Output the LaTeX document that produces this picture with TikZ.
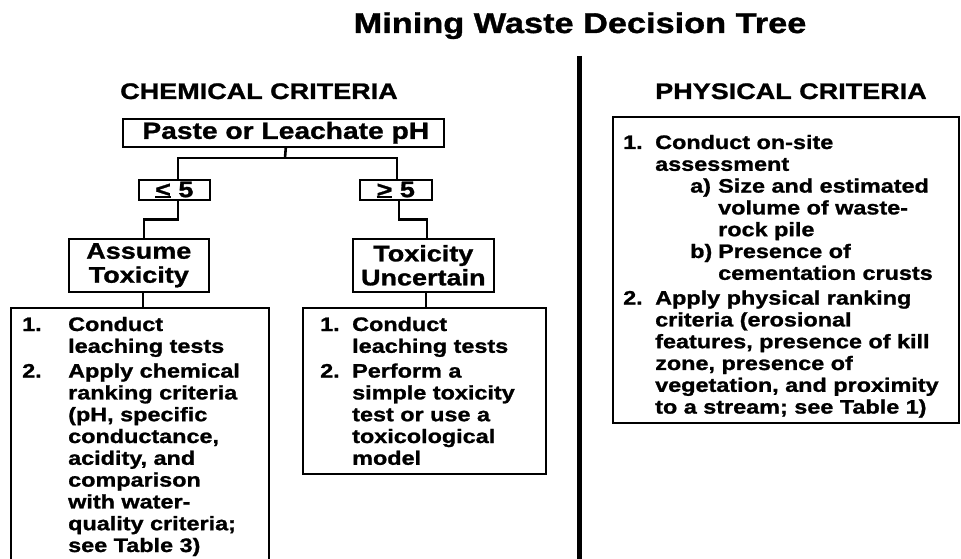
\documentclass[tikz,border=0pt]{standalone}
\usepackage{fontspec}
\setmainfont{Liberation Sans}[FakeStretch=1.2, BoldFeatures={FakeBold=1.2}]
\usetikzlibrary{calc}
\newlength\ulw
\newcommand\ubar[1]{\settowidth\ulw{#1}\rlap{\rule[-0.8pt]{\ulw}{2pt}}#1}
\newcommand\itm[2]{\makebox[#1][l]{#2}}
\begin{document}
\begin{tikzpicture}[x=1pt,y=-1pt,
  box/.style={draw, line width=1.6pt, inner sep=0pt, anchor=north west, align=center,
    font=\bfseries\fontsize{22.5}{24}\selectfont},
  conn/.style={line width=2.6pt},
  head/.style={inner sep=0pt, anchor=base, font=\bfseries\fontsize{22.5}{26}\selectfont},
  lst/.style={inner sep=0pt, anchor=base west, font=\bfseries\fontsize{19.5}{21.8}\selectfont}]
\useasboundingbox (0,0) rectangle (961,559);

% titles
\node[head, font=\bfseries\fontsize{28.6}{30}\selectfont] (title) at (580,33) {Mining Waste Decision Tree};
\node[head] (chem) at (259,99) {CHEMICAL CRITERIA};
\node[head] (phyt) at (791,99) {PHYSICAL CRITERIA};

% divider
\draw[line width=5pt] (579.5,56) -- (579.5,570);

% chemical tree boxes
\node[box, minimum width=321pt, minimum height=28pt, font=\bfseries\fontsize{23.5}{26}\selectfont] (paste) at (122,118) {\hspace*{5pt}Paste or Leachate pH};
\node[box, minimum width=71pt, minimum height=20pt] (lt) at (138,179) {\ubar{<} 5};
\node[box, minimum width=72pt, minimum height=20pt] (gt) at (359,179) {\ubar{>} 5};
\node[box, minimum width=140pt, minimum height=53pt] (assume) at (68,238) {Assume\\Toxicity};
\node[box, minimum width=141pt, minimum height=53pt] (unc) at (352,238) {Toxicity\\Uncertain};
\node[box, minimum width=258pt, minimum height=270pt] (leftlist) at (10,307) {};
\node[box, minimum width=243pt, minimum height=166pt] (rightlist) at (302,307) {};
\node[box, minimum width=346pt, minimum height=306pt] (phys) at (612,116) {};

% connectors
\coordinate (hj) at (285,158);
\draw[conn] ([xshift=2.5pt]paste.south) -- (hj);
\draw[conn] ([xshift=3.5pt]lt.north) |- (hj) -| ([xshift=1pt]gt.north);
\draw[conn] ([xshift=3.5pt]lt.south) -- ++(0,19) -| ([xshift=5pt]assume.north);
\draw[conn] ([xshift=3pt]gt.south) -- ++(0,19) -| ([xshift=3.5pt]unc.north);
\coordinate (a1) at ($(assume.south)+(4,0)$);
\coordinate (u1) at ($(unc.south)+(2.5,0)$);
\draw[conn] (a1) -- (a1 |- leftlist.north);
\draw[conn] (u1) -- (u1 |- rightlist.north);

% list texts
\node[lst] (ltxt) at (22,331) {\parbox[t]{250pt}{%
\itm{46pt}{1.}Conduct\\
\hspace*{46pt}leaching tests\\[3pt]
\itm{46pt}{2.}Apply chemical\\
\hspace*{46pt}ranking criteria\\
\hspace*{46pt}(pH, specific\\
\hspace*{46pt}conductance,\\
\hspace*{46pt}acidity, and\\
\hspace*{46pt}comparison\\
\hspace*{46pt}with water-\\
\hspace*{46pt}quality criteria;\\
\hspace*{46pt}see Table 3)}};

\node[lst] (rtxt) at (320,331) {\parbox[t]{230pt}{%
\itm{32pt}{1.}Conduct\\
\hspace*{32pt}leaching tests\\[3pt]
\itm{32pt}{2.}Perform a\\
\hspace*{32pt}simple toxicity\\
\hspace*{32pt}test or use a\\
\hspace*{32pt}toxicological\\
\hspace*{32pt}model}};

\node[lst] (ptxt) at (623,149) {\parbox[t]{340pt}{%
\itm{32pt}{1.}Conduct on-site\\
\hspace*{32pt}assessment\\
\hspace*{67pt}\itm{28pt}{a)}Size and estimated\\
\hspace*{95pt}volume of waste-\\
\hspace*{95pt}rock pile\\
\hspace*{67pt}\itm{28pt}{b)}Presence of\\
\hspace*{95pt}cementation crusts\\[3pt]
\itm{32pt}{2.}Apply physical ranking\\
\hspace*{32pt}criteria (erosional\\
\hspace*{32pt}features, presence of kill\\
\hspace*{32pt}zone, presence of\\
\hspace*{32pt}vegetation, and proximity\\
\hspace*{32pt}to a stream; see Table 1)}};
\end{tikzpicture}
\end{document}
